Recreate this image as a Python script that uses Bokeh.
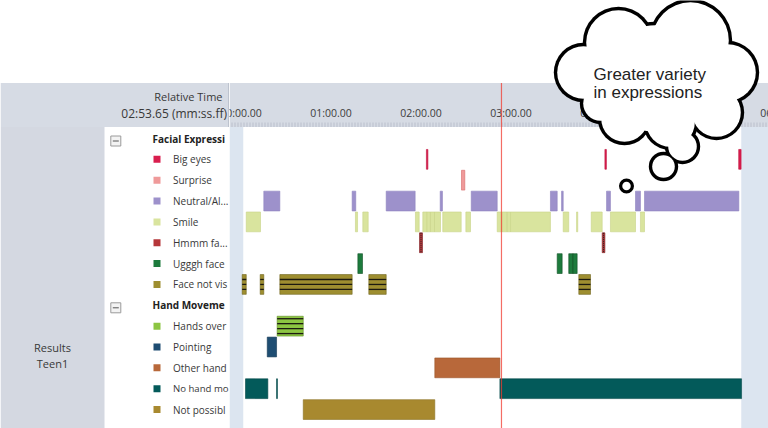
from bokeh.plotting import figure
from bokeh.models import Range1d, BoxAnnotation, ColumnDataSource
from bokeh.layouts import row
from bokeh.embed import file_html
from bokeh.resources import INLINE
from bokeh.core.properties import value

# ---------------- data ----------------
categories = ["Facial Expressions", "Big eyes", "Surprise", "Neutral/Alert", "Smile",
              "Hmmm face", "Ugggh face", "Face not visible", "Hand Movements",
              "Hands over face", "Pointing", "Other hand movement", "No hand movement",
              "Not possible to see"]
# labels as the narrow label column shows them
shown_labels = ["Facial Expressi", "Big eyes", "Surprise", "Neutral/Al...", "Smile",
                "Hmmm fa...", "Ugggh face", "Face not vis", "Hand Moveme",
                "Hands over", "Pointing", "Other hand", "No hand mo", "Not possibl"]
group_headers = ["Facial Expressions", "Hand Movements"]

big_eyes = [(123.6, 124.6), (242.6, 243.6), (331.8, 333.4)]
surprise = [(147.0, 149.2)]
neutral = [(15.2, 25.9), (74.1, 76.5), (96.8, 116.1), (132.8, 134.3), (153.5, 170.8),
           (206.3, 210.8), (213.7, 214.8), (243.7, 246.3), (263.0, 266.3), (269.0, 331.9)]
smile = [(3.5, 13.0), (76.3, 77.7), (81.2, 84.8), (116.3, 118.8), (121.2, 124.1),
         (124.1, 126.3), (126.3, 129.0), (129.0, 133.0), (134.5, 146.8), (149.9, 153.0),
         (170.8, 174.1), (174.1, 177.5), (177.5, 179.7), (179.7, 206.3), (214.8, 218.5),
         (223.7, 224.5), (233.5, 240.8), (246.3, 263.0), (266.3, 269.0)]
hmmm = [(119.0, 121.0), (240.8, 242.6)]
ugggh = [(77.9, 81.0), (210.8, 214.1), (218.5, 221.3), (221.3, 224.1)]
face_not_visible = [(0.8, 3.5), (12.8, 15.2), (25.9, 74.1), (85.2, 96.8), (225.2, 233.0)]
hands_over = [(24.1, 41.5)]
pointing = [(17.5, 23.7)]
other_hand = [(129.2, 172.6)]
no_hand = [(3.0, 17.9), (23.7, 24.3), (172.6, 333.7)]
not_possible = [(41.5, 129.2)]

events = {
    "Big eyes": big_eyes, "Surprise": surprise, "Neutral/Alert": neutral, "Smile": smile,
    "Hmmm face": hmmm, "Ugggh face": ugggh, "Face not visible": face_not_visible,
    "Hands over face": hands_over, "Pointing": pointing, "Other hand movement": other_hand,
    "No hand movement": no_hand, "Not possible to see": not_possible,
}

tick_seconds = [0, 60, 120, 180, 240, 300, 360]
tick_labels = ["00:00.00", "01:00.00", "02:00.00", "03:00.00", "04:00.00", "05:00.00", "06:00.00"]
cursor_time = 173.65
cursor_label = "02:53.65 (mm:ss.ff)"
obs_start, obs_end = 1.5, 333.5
subject = ["Results", "Teen1"]
cloud_text = ["Greater variety", "in expressions"]

# ---------------- style ----------------
colors = {
    "Big eyes": "#d91e4e", "Surprise": "#ef9a9a", "Neutral/Alert": "#9d91cb",
    "Smile": "#d9e49e", "Hmmm face": "#b5373a", "Ugggh face": "#1d7b3d",
    "Face not visible": "#9e8e30", "Hands over face": "#8cc542", "Pointing": "#1e4d72",
    "Other hand movement": "#b8683a", "No hand movement": "#035a5a",
    "Not possible to see": "#a8892f",
}
edges = {
    "Big eyes": "#c0103c", "Surprise": "#d66a6a", "Neutral/Alert": "#8f83c0",
    "Smile": "#c8d487", "Hmmm face": "#7a1f22", "Ugggh face": "#0f4f24",
    "Face not visible": "#6f631c", "Hands over face": "#5f8f25", "Pointing": "#123652",
    "Other hand movement": "#9a5428", "No hand movement": "#024646",
    "Not possible to see": "#8c7224",
}
FONT = value("Open Sans")
HEADER_C = "#d6dbe4"
PANEL_C = "#d4d8e1"
STRIP_C = "#dce5f0"
TXT_C = "#383838"

# layout mapping (reference pixels -> row / second units), layout only
ROW0_PX, PITCH = 138.0, 20.85
def ry(px):
    return (px - ROW0_PX) / PITCH
X0_PX, PX_PER_S = 240.5, 1.5
def tx(px):
    return (px - X0_PX) / PX_PER_S

W, H, SPLIT = 768, 428, 229
y_top, y_bot = ry(0), ry(H)
header_top, header_bottom = ry(82.5), ry(126.5)
yr = Range1d(start=y_bot, end=y_top)
row_of = {c: i for i, c in enumerate(categories)}
HALF = 0.475

def base_fig(w, xr):
    p = figure(width=w, height=H, x_range=xr, y_range=yr, output_backend="svg",
               toolbar_location=None, x_axis_location=None, y_axis_location=None,
               min_border=0)
    p.min_border_left = p.min_border_right = p.min_border_top = p.min_border_bottom = 0
    p.outline_line_color = None
    p.background_fill_color = "white"
    p.border_fill_color = "white"
    p.grid.visible = False
    return p

# ---------------- left figure (labels) ----------------
pl = base_fig(SPLIT, Range1d(0, SPLIT))
pl.add_layout(BoxAnnotation(top=header_top, bottom=header_bottom, fill_color=HEADER_C,
                            fill_alpha=1, line_color=None, level="underlay"))
pl.add_layout(BoxAnnotation(right=104, top=header_bottom, bottom=y_bot, fill_color=PANEL_C,
                            fill_alpha=1, line_color=None, level="underlay"))
pl.segment(x0=[228.6], x1=[228.6], y0=[header_top], y1=[header_bottom],
           line_color="#9aa2ae", line_width=1)
pl.text(x=[222], y=[ry(96)], text=["Relative Time"], text_font=FONT, text_font_size="11px",
        text_align="right", text_baseline="middle", text_color=TXT_C)
pl.text(x=[226.5], y=[ry(112.5)], text=[cursor_label], text_font=FONT, text_font_size="12px",
        text_align="right", text_baseline="middle", text_color=TXT_C)

hdr_rows = [row_of[g] for g in group_headers]
pl.scatter(x=[115.3] * len(hdr_rows), y=[r + 0.12 for r in hdr_rows], marker="square", size=10,
           fill_color="#f3f3f3", line_color="#9a9a9a", line_width=1)
pl.scatter(x=[115.3] * len(hdr_rows), y=[r + 0.12 for r in hdr_rows], marker="dash", size=6,
           line_color="#555555", line_width=1)
pl.text(x=[152] * len(hdr_rows), y=hdr_rows, text=[shown_labels[r] for r in hdr_rows],
        text_font=FONT, text_font_size="10px", text_font_style="bold",
        text_baseline="middle", text_color="#222222")

beh = [c for c in categories if c not in group_headers]
beh_text = [shown_labels[row_of[c]] for c in beh]
# the one label that would overrun the narrow column gets a touch smaller
beh_size = ["9.6px" if len(t) >= 10 and t.startswith("No hand") else "10px" for t in beh_text]
pl.scatter(x=[156.5] * len(beh), y=[row_of[c] for c in beh], marker="square", size=7,
           fill_color=[colors[c] for c in beh], line_color=None)
pl.text(x=[172.5] * len(beh), y=[row_of[c] for c in beh], text=beh_text, text_font=FONT,
        text_font_size=beh_size, text_baseline="middle", text_color=TXT_C)
pl.text(x=[52, 52], y=[ry(346.5), ry(363)], text=subject, text_font=FONT, text_font_size="11px",
        text_align="center", text_baseline="middle", text_color=TXT_C)

# ---------------- right figure (timeline) ----------------
pr = base_fig(W - SPLIT, Range1d(tx(SPLIT), tx(W)))
pr.add_layout(BoxAnnotation(top=header_top, bottom=header_bottom, fill_color=HEADER_C,
                            fill_alpha=1, line_color=None, level="underlay"))
pr.add_layout(BoxAnnotation(right=obs_start, top=header_bottom, bottom=y_bot, fill_color=STRIP_C,
                            fill_alpha=1, line_color=None, level="underlay"))
pr.add_layout(BoxAnnotation(left=obs_end, top=header_bottom, bottom=y_bot, fill_color=STRIP_C,
                            fill_alpha=1, line_color=None, level="underlay"))

# ruler ticks
ruler = list(range(-6, 358, 2))
pr.segment(x0=ruler, x1=ruler, y0=[ry(122)] * len(ruler), y1=[header_bottom] * len(ruler),
           line_color="#a8b0bc", line_width=0.6)
pr.text(x=tick_seconds, y=[ry(112.5)] * len(tick_seconds), text=tick_labels, text_font=FONT,
        text_font_size="10.5px", text_align="center", text_baseline="middle",
        text_color="#3d3d3d")

# bars
for name, ev in events.items():
    r = row_of[name]
    src = ColumnDataSource(dict(left=[s for s, e in ev], right=[e for s, e in ev],
                                top=[r - HALF] * len(ev), bottom=[r + HALF] * len(ev)))
    pr.quad(left="left", right="right", top="top", bottom="bottom", source=src,
            fill_color=colors[name], line_color=edges[name], line_width=0.6)

# stripes on multi-coded bars
for name, offs in [("Face not visible", [0.25, 0.5, 0.75]),
                   ("Hands over face", [0.125, 0.375, 0.625, 0.875])]:
    r = row_of[name]
    ev = events[name]
    x0 = [s for s, e in ev for _ in offs]
    x1 = [e for s, e in ev for _ in offs]
    yy = [r - HALF + 2 * HALF * o for _ in ev for o in offs]
    pr.segment(x0=x0, x1=x1, y0=yy, y1=yy, line_color="#1c1a10", line_width=1.3)

for name in ["Hmmm face"]:
    r = row_of[name]
    mids = [(s + e) / 2 for s, e in events[name]]
    pr.segment(x0=mids, x1=mids, y0=[r - HALF] * len(mids), y1=[r + HALF] * len(mids),
               line_color="#222222", line_width=1, line_dash="1 1")

# cursor
pr.segment(x0=[cursor_time], x1=[cursor_time], y0=[header_top], y1=[y_bot],
           line_color="#f03c32", line_alpha=0.75, line_width=1.2)

# thought cloud (annotation), lobes in reference pixels (x, y, radius)
lobes = [(583, 72, 28), (618, 42, 34), (690, 40, 40), (727, 72, 30), (716, 112, 26),
         (670, 122, 26), (624, 118, 25), (600, 103, 19), (655, 78, 55),
         (682, 146, 16), (663, 166, 13)]
cx = [tx(a) for a, b, c in lobes]
cy = [ry(b) for a, b, c in lobes]
pr.scatter(x=cx, y=cy, size=[2 * (c + 1.7) for a, b, c in lobes], marker="circle",
           fill_color="black", line_color=None)
pr.scatter(x=cx, y=cy, size=[2 * (c - 1.7) for a, b, c in lobes], marker="circle",
           fill_color="white", line_color=None)
pr.scatter(x=[tx(626)], y=[ry(185.5)], size=15, marker="circle", fill_color="black", line_color=None)
pr.scatter(x=[tx(626)], y=[ry(185.5)], size=8.5, marker="circle", fill_color="white", line_color=None)
pr.text(x=[tx(593)] * 2, y=[ry(74), ry(91.5)], text=cloud_text, text_font=value("Liberation Sans"),
        text_font_size="17px", text_baseline="alphabetic", text_color="#222222")

layout = row(pl, pr, spacing=0)
open("out.html", "w").write(file_html(layout, INLINE))
